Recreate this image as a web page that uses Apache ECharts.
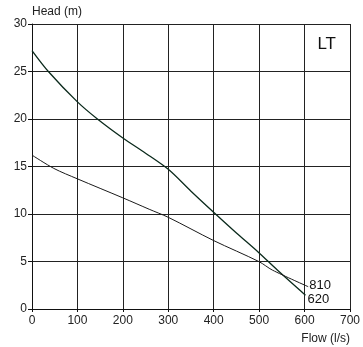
<!DOCTYPE html>
<html><head><meta charset="utf-8">
<script src="https://cdn.jsdelivr.net/npm/echarts@6/dist/echarts.min.js"></script>
<style>html,body{margin:0;padding:0;background:#fff}#c{width:363px;height:347px}</style>
</head><body><div id="c"></div>
<script>
var flow620 = [0, 36, 100, 144, 200, 250, 300, 350, 404, 450, 500, 540, 602];
var head620 = [27.2, 25, 21.8, 20, 18, 16.4, 14.7, 12.4, 10, 8.0, 5.9, 4.1, 1.45];
var flow810 = [0, 48, 100, 200, 258, 300, 400, 500, 529, 608];
var head810 = [16.2, 14.8, 13.7, 11.7, 10.5, 9.65, 7.2, 4.98, 4.1, 2.35];
var seriesNames = ['620', '810'];
var xTicks = [0, 100, 200, 300, 400, 500, 600, 700];
var yTicks = [0, 5, 10, 15, 20, 25, 30];

function pairs(xs, ys) { return xs.map(function (x, i) { return [x, ys[i]]; }); }
var font = 'Liberation Sans, Arial, sans-serif';
var chart = echarts.init(document.getElementById('c'));
chart.setOption({
  animation: false,
  grid: { left: 32, right: 11, top: 24, bottom: 38 },
  xAxis: {
    type: 'value', min: xTicks[0], max: xTicks[xTicks.length - 1], interval: 100,
    name: 'Flow (l/s)', nameLocation: 'end', nameGap: 0,
    nameTextStyle: { color: '#222', fontSize: 12, fontFamily: font, align: 'right', verticalAlign: 'top', padding: [24, 0, 0, 0] },
    axisLine: { lineStyle: { color: '#111', width: 1 } },
    axisTick: { show: true, length: 3, lineStyle: { color: '#111' } },
    axisLabel: { color: '#222', fontSize: 12, fontFamily: font, margin: 6 },
    splitLine: { show: true, lineStyle: { color: '#222', width: 1 } }
  },
  yAxis: {
    type: 'value', min: yTicks[0], max: yTicks[yTicks.length - 1], interval: 5,
    name: 'Head (m)', nameLocation: 'end', nameGap: 6,
    nameTextStyle: { color: '#222', fontSize: 12, fontFamily: font, align: 'left' },
    axisLine: { show: true, lineStyle: { color: '#111', width: 1 } },
    axisTick: { show: true, length: 4, lineStyle: { color: '#111' } },
    axisLabel: { color: '#222', fontSize: 12, fontFamily: font, margin: 5 },
    splitLine: { show: true, lineStyle: { color: '#222', width: 1 } }
  },
  graphic: [{
    type: 'text', right: 27, top: 36,
    style: { text: 'LT', fontSize: 17, fontFamily: font, fill: '#111' }
  }],
  series: [{
    name: seriesNames[0], type: 'line', smooth: 0.3, symbol: 'none',
    lineStyle: { color: '#0b2a1c', width: 1.3 },
    data: pairs(flow620, head620),
    endLabel: { show: true, formatter: seriesNames[0], distance: 2, offset: [0, 4], color: '#111', fontSize: 13, fontFamily: font }
  }, {
    name: seriesNames[1], type: 'line', smooth: 0.3, symbol: 'none',
    lineStyle: { color: '#1a1a1a', width: 1 },
    data: pairs(flow810, head810),
    endLabel: { show: true, formatter: seriesNames[1], distance: 1, offset: [0, -1], color: '#111', fontSize: 13, fontFamily: font }
  }]
});
</script></body></html>
